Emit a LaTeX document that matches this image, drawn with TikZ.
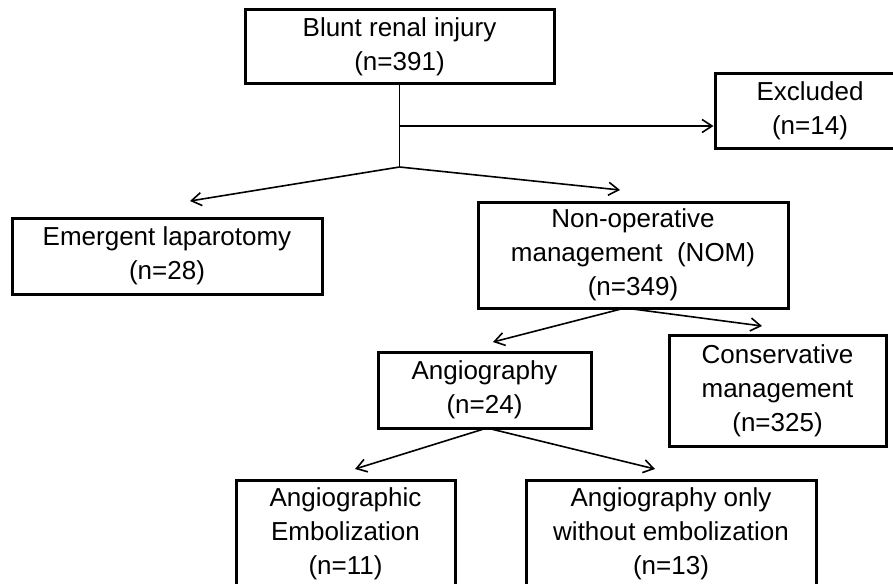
\documentclass[tikz,border=0pt]{standalone}
\usepackage{fontspec}
\setmainfont{Liberation Sans}
\usetikzlibrary{arrows.meta}
\usetikzlibrary{calc}
\newcommand\boxwd{3pt}
\newcommand\flowwd{1.6pt}
\tikzset{>={Straight Barb[length=10pt,width=13pt]}}
\tikzstyle{chart} = [x=1pt,y=-1pt]
\tikzstyle{stage} = 
 [draw,line width=\boxwd,align=center,inner sep=0pt,font=\fontsize{26}{34}\selectfont]
\tikzstyle{flow}  = [line width=\flowwd]

\begin{document}
\begin{tikzpicture}[chart]
  \useasboundingbox (0,0) rectangle (893,583);
  % boxes
  \node[stage,minimum width=309pt,minimum height=74pt] (blunt) at (399.5,47)
    {Blunt renal injury\\(n=391)};
  \node[stage,minimum width=190pt,minimum height=74pt] (excl) at (810,111)
    {Excluded\\(n=14)};
  \node[stage,minimum width=310pt,minimum height=76pt] (lapar) at (167,256)
    {Emergent laparotomy\\(n=28)};
  \node[stage,minimum width=310pt,minimum height=106pt] (nom) at (633,255)
    {Non-operative\\management\ \ (NOM)\\(n=349)};
  \node[stage,minimum width=213pt,minimum height=76pt] (angio) at (484.5,390)
    {Angiography\\(n=24)};
  \node[stage,minimum width=217pt,minimum height=111pt] (cons) at (777.5,390.5)
    {Conservative\\management\\(n=325)};
  \node[stage,minimum width=219pt,minimum height=108pt] (embol) at (345.5,534)
    {Angiographic\\Embolization\\(n=11)};
  \node[stage,minimum width=290pt,minimum height=108pt] (only) at (671,534)
    {Angiography only\\without embolization\\(n=13)};
  % branch points
  \coordinate (fork) at (399.5,126);
  \coordinate (split) at (399.5,167);
  \coordinate (tolapar) at (190,201);
  \coordinate (tonom) at (620,190);
  \coordinate (nomfoot) at (625,308);
  \coordinate (toangio) at (493,342);
  \coordinate (tocons) at (762,326);
  \coordinate (angiofoot) at (487,428);
  \coordinate (toembol) at (355,469);
  \coordinate (toonly) at (655,469);
  % arrows
  \begin{scope}[flow]
    \draw (blunt.south) -- (split);
    \draw[->] (fork) -- (fork -| excl.west);
    \draw[->] (split) -- (tolapar);
    \draw[->] (split) -- (tonom);
    \draw[->] (nomfoot) -- (toangio);
    \draw[->] (nomfoot) -- (tocons);
    \draw[->] (angiofoot) -- (toembol);
    \draw[->] (angiofoot) -- (toonly);
  \end{scope}
\end{tikzpicture}
\end{document}
